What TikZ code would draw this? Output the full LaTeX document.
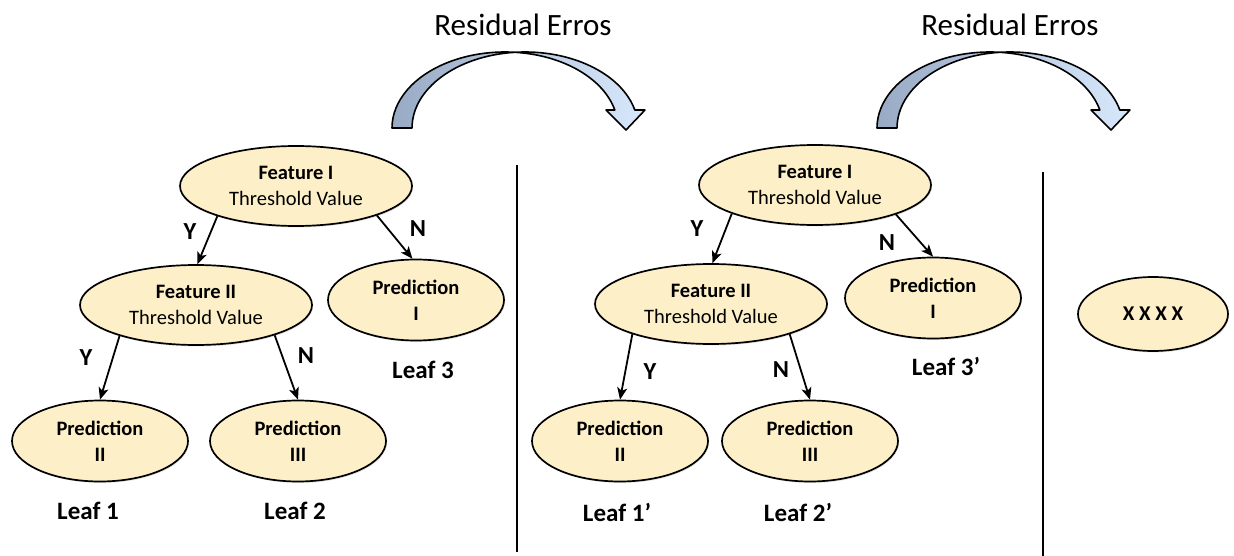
\documentclass[tikz,border=0pt]{standalone}
\usepackage{fontspec}
\setmainfont{Carlito}
\usetikzlibrary{arrows.meta,shapes.geometric,shadows}

\definecolor{nodefill}{RGB}{253,240,200}
\definecolor{arrowdark}{RGB}{152,170,196}
\definecolor{arrowlight}{RGB}{216,232,252}

\tikzset{
  oval/.style={ellipse, draw=black, line width=1.7pt, fill=nodefill, inner sep=0pt,
    align=center, font=\fontsize{20.5}{26}\selectfont,
    drop shadow={opacity=0.22, shadow xshift=1pt, shadow yshift=-1.5pt}},
  featbox/.style={oval, minimum width=232pt, minimum height=80pt},
  predbox/.style={oval, minimum width=176pt, minimum height=81pt},
  edge/.style={line width=1.8pt, -{Stealth[length=12pt,width=10pt,inset=3pt]}},
  yn/.style={font=\fontsize{24.5}{28}\selectfont\bfseries},
  leaf/.style={font=\fontsize{25}{29}\selectfont\bfseries},
  divider/.style={line width=2.8pt},
  title/.style={font=\fontsize{31}{36}\selectfont},
  bendarrow/.style={draw=black, line width=1.6pt, left color=arrowdark,
    right color=arrowlight, line join=round}
}

% Curved "residual" arrow made of two offset half ellipses; #1 = x of its apex
\newcommand\residualarrow[1]{%
  \path[bendarrow, shift={(#1,0)}]
    (-123,128)
    arc[start angle=180, end angle=275.08, x radius=113, y radius=76]
    arc[start angle=264.92, end angle=346.3, x radius=113, y radius=76]
    -- (130,110) -- (111,130) -- (91,110) -- (99.8,110)
    arc[start angle=346.3, end angle=275.08, x radius=113, y radius=76]
    arc[start angle=264.92, end angle=180, x radius=113, y radius=76]
    -- cycle;}

\begin{document}
\begin{tikzpicture}[x=1pt, y=-1pt]
  \path[use as bounding box] (0,0) rectangle (1234,556);

  % headings and bent arrows
  \node[title] (t1) at (523,25) {Residual Erros};
  \node[title] (t2) at (1010,25) {Residual Erros};
  \residualarrow{515}
  \residualarrow{1000}

  % first tree
  \node[featbox] (fa) at (296,186) {\textbf{Feature I}\\Threshold Value};
  \node[featbox] (fb) at (196,305) {\textbf{Feature II}\\Threshold Value};
  \node[predbox] (pa) at (416,300) {\textbf{Prediction}\\\textbf{I}};
  \node[predbox] (pb) at (100,441) {\textbf{Prediction}\\\textbf{II}};
  \node[predbox] (pc) at (298,441) {\textbf{Prediction}\\\textbf{III}};

  \draw[edge] (fa.201) -- (fb.88);
  \draw[edge] (fa.340) -- (pa.95);
  \draw[edge] (fb.202) -- (pb.north);
  \draw[edge] (fb.339) -- (pc.north);

  \node[yn] (ya) at (190,232) {Y};
  \node[yn] (na) at (418,229) {N};
  \node[yn] (yb) at (86,358) {Y};
  \node[yn] (nb) at (306,356) {N};

  \node[leaf] (l1) at (88,511) {Leaf 1};
  \node[leaf] (l2) at (295,511) {Leaf 2};
  \node[leaf] (l3) at (423,370) {Leaf 3};

  % first divider
  \coordinate (d1t) at (517,165);
  \coordinate (d1b) at (517,552);
  \draw[divider] (d1t) -- (d1b);

  % second tree
  \node[featbox] (ra) at (815,185) {\textbf{Feature I}\\Threshold Value};
  \node[featbox] (rb) at (711,304) {\textbf{Feature II}\\Threshold Value};
  \node[predbox] (rpa) at (933,298) {\textbf{Prediction}\\\textbf{I}};
  \node[predbox] (rpb) at (620,441) {\textbf{Prediction}\\\textbf{II}};
  \node[predbox] (rpc) at (810,441) {\textbf{Prediction}\\\textbf{III}};

  \draw[edge] (ra.199.5) -- (rb.88);
  \draw[edge] (ra.340.7) -- (rpa.north);
  \draw[edge] (rb.201.6) -- (rpb.north);
  \draw[edge] (rb.339) -- (rpc.north);

  \node[yn] (yc) at (697,229) {Y};
  \node[yn] (nc) at (887,243) {N};
  \node[yn] (yd) at (650,372) {Y};
  \node[yn] (nd) at (781,370) {N};

  \node[leaf] (m1) at (617,512) {Leaf 1’};
  \node[leaf] (m2) at (798,512) {Leaf 2’};
  \node[leaf] (m3) at (946,366) {Leaf 3’};

  % second divider
  \coordinate (d2t) at (1043,172);
  \coordinate (d2b) at (1043,556);
  \draw[divider] (d2t) -- (d2b);

  % next tree placeholder
  \node[oval, minimum width=150pt, minimum height=74pt, font=\fontsize{21}{25}\selectfont\bfseries] (xx) at (1153,314) {X X X X};
\end{tikzpicture}
\end{document}
